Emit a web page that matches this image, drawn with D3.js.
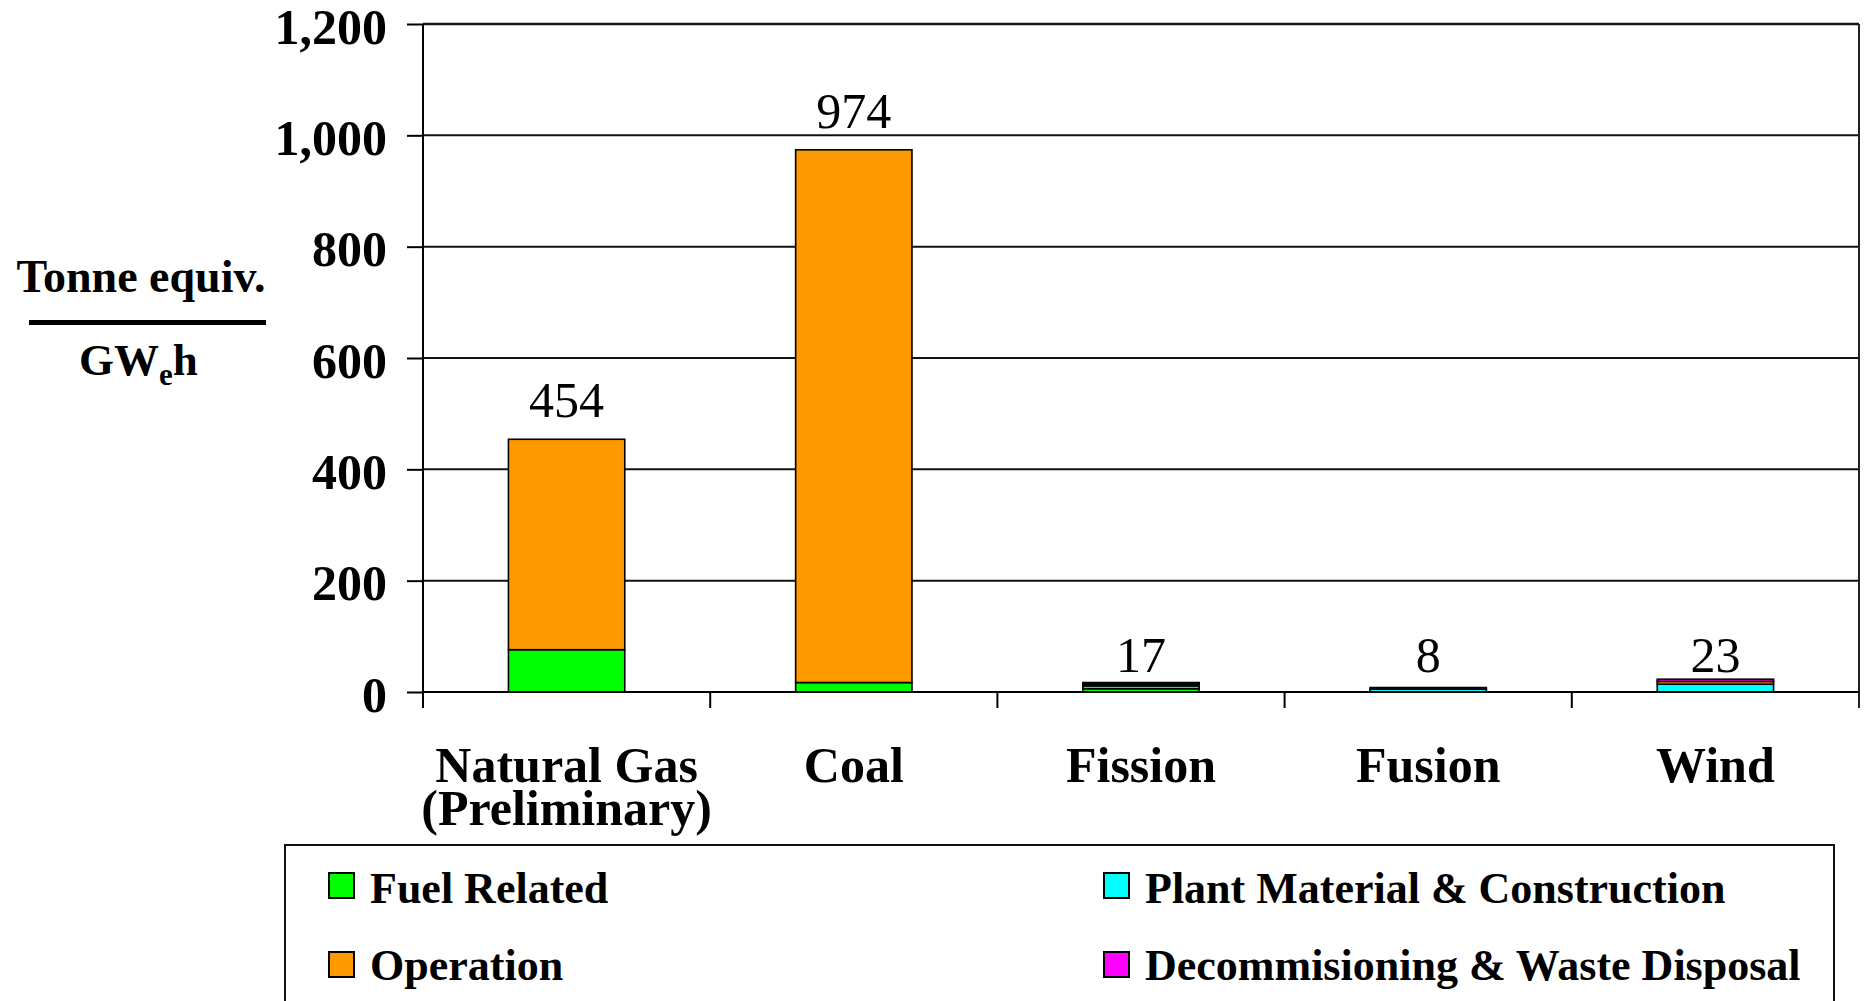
<!DOCTYPE html>
<html>
<head>
<meta charset="utf-8">
<script src="https://cdn.jsdelivr.net/npm/d3@7"></script>
<style>
  html, body { margin: 0; padding: 0; background: #fff; }
  svg { display: block; }
  text { font-family: "Liberation Serif", "Times New Roman", Times, serif; fill: #000; }
</style>
</head>
<body>
<svg id="chart" width="1865" height="1001"></svg>
<script>
// Emissions per unit of electricity, by generation source (tonne equiv. / GWe·h)
const categories = ["Natural Gas (Preliminary)", "Coal", "Fission", "Fusion", "Wind"];
const categoryLines = [["Natural Gas", "(Preliminary)"], ["Coal"], ["Fission"], ["Fusion"], ["Wind"]];

// Stack components, bottom to top
const fuelRelated   = [76, 17, 6, 0, 0];
const plantMaterial = [0, 0, 5, 5, 14];
const operation     = [378, 957, 3, 0, 5];
const decommission  = [0, 0, 3, 3, 4];

const seriesKeys   = ["fuel", "plant", "operation", "decom"];
const seriesNames  = ["Fuel Related", "Plant Material & Construction", "Operation", "Decommisioning & Waste Disposal"];
const seriesColors = ["#00FF00", "#00FFFF", "#FF9900", "#FF00FF"];

const yTicks = [0, 200, 400, 600, 800, 1000, 1200];

const rows = categories.map((c, i) => ({
  category: c,
  fuel: fuelRelated[i],
  plant: plantMaterial[i],
  operation: operation[i],
  decom: decommission[i]
}));

const svg = d3.select("#chart");
const plot = { left: 423, right: 1859, top: 24, bottom: 692 };

const x = d3.scaleBand()
  .domain(categories)
  .range([plot.left, plot.right])
  .paddingInner(0.595)
  .paddingOuter(0.2975);

const xCell = d3.scaleBand()
  .domain(categories)
  .range([plot.left, plot.right])
  .padding(0);

const y = d3.scaleLinear()
  .domain([0, 1200])
  .range([plot.bottom, plot.top]);

// Horizontal gridlines
svg.append("g")
  .selectAll("line")
  .data(yTicks.filter(d => d > 0))
  .join("line")
  .attr("x1", plot.left).attr("x2", plot.right)
  .attr("y1", d => y(d)).attr("y2", d => y(d))
  .attr("stroke", "#111")
  .attr("stroke-width", d => d === 1200 ? 2.6 : 2);

// Right border of the plot area, running down into the tick row
svg.append("line")
  .attr("x1", plot.right).attr("x2", plot.right)
  .attr("y1", plot.top).attr("y2", plot.bottom + 16)
  .attr("stroke", "#222").attr("stroke-width", 2);

// Stacked bars
const stacked = d3.stack().keys(seriesKeys)(rows);
svg.append("g")
  .selectAll("g")
  .data(stacked)
  .join("g")
  .attr("fill", (d, i) => seriesColors[i])
  .selectAll("rect")
  .data(d => d.filter(s => s[1] - s[0] > 0))
  .join("rect")
  .attr("x", d => x(d.data.category))
  .attr("width", x.bandwidth())
  .attr("y", d => y(d[1]))
  .attr("height", d => y(d[0]) - y(d[1]))
  .attr("stroke", "#000")
  .attr("stroke-width", 1.6);

// Total value above each bar; very short bars share one label row just above the axis
const totals = rows.map(r => ({ category: r.category, total: d3.sum(seriesKeys, k => r[k]) }));
svg.append("g")
  .selectAll("text")
  .data(totals)
  .join("text")
  .attr("x", d => x(d.category) + x.bandwidth() / 2)
  .attr("y", d => d.total < 50 ? y(0) - 20 : y(d.total) - 22)
  .attr("text-anchor", "middle")
  .attr("font-size", 50)
  .text(d => d3.format(",")(d.total));

// Y axis
const yAxis = svg.append("g")
  .attr("transform", `translate(${plot.left},0)`)
  .call(d3.axisLeft(y).tickValues(yTicks).tickSize(16).tickPadding(20).tickFormat(d3.format(",")));
yAxis.select(".domain").attr("stroke", "#000").attr("stroke-width", 2).attr("d", `M0,${plot.top}V${plot.bottom + 16}`);
yAxis.selectAll(".tick line").attr("stroke", "#000").attr("stroke-width", 2);
yAxis.selectAll(".tick text")
  .attr("font-family", "'Liberation Serif', 'Times New Roman', serif")
  .attr("font-size", 50)
  .attr("font-weight", "bold")
  .attr("fill", "#000")
  .attr("dy", "0.38em");

// X axis baseline and category boundary ticks
svg.append("line")
  .attr("x1", plot.left).attr("x2", plot.right)
  .attr("y1", plot.bottom).attr("y2", plot.bottom)
  .attr("stroke", "#000").attr("stroke-width", 2);
svg.append("g")
  .selectAll("line")
  .data(categories.slice(1))
  .join("line")
  .attr("x1", d => xCell(d)).attr("x2", d => xCell(d))
  .attr("y1", plot.bottom).attr("y2", plot.bottom + 16)
  .attr("stroke", "#000").attr("stroke-width", 2);

// Category labels
const catLabels = svg.append("g")
  .selectAll("text")
  .data(categories)
  .join("text")
  .attr("x", d => xCell(d) + xCell.bandwidth() / 2)
  .attr("y", 782)
  .attr("text-anchor", "middle")
  .attr("font-size", 50)
  .attr("font-weight", "bold");
catLabels.selectAll("tspan")
  .data((d, i) => categoryLines[i])
  .join("tspan")
  .attr("x", function () { return this.parentNode.getAttribute("x"); })
  .attr("dy", (d, j) => j === 0 ? 0 : 43)
  .text(d => d);

// Y axis title as a fraction: Tonne equiv. / GWeh
const titleX = 141;
svg.append("text")
  .attr("x", titleX).attr("y", 292)
  .attr("text-anchor", "middle")
  .attr("font-size", 46).attr("font-weight", "bold")
  .text("Tonne equiv.");
svg.append("line")
  .attr("x1", 29).attr("x2", 266)
  .attr("y1", 322.5).attr("y2", 322.5)
  .attr("stroke", "#000").attr("stroke-width", 5);
const unit = svg.append("text")
  .attr("x", 79).attr("y", 375)
  .attr("font-size", 45).attr("font-weight", "bold");
unit.append("tspan").text("GW");
unit.append("tspan").attr("font-size", 31).attr("dy", 10).text("e");
unit.append("tspan").attr("dy", -10).text("h");

// Legend
const legend = svg.append("g");
legend.append("rect")
  .attr("x", 285).attr("y", 845)
  .attr("width", 1549).attr("height", 200)
  .attr("fill", "#fff").attr("stroke", "#111").attr("stroke-width", 2);

const legendPos = [
  { sx: 329, tx: 370, sy: 873, ty: 903 },
  { sx: 1104, tx: 1145, sy: 873, ty: 903 },
  { sx: 329, tx: 370, sy: 952, ty: 980 },
  { sx: 1104, tx: 1145, sy: 952, ty: 980 }
];
const items = legend.selectAll("g.item")
  .data(seriesNames)
  .join("g")
  .attr("class", "item");
items.append("rect")
  .attr("x", (d, i) => legendPos[i].sx)
  .attr("y", (d, i) => legendPos[i].sy)
  .attr("width", 25).attr("height", 25)
  .attr("fill", (d, i) => seriesColors[i])
  .attr("stroke", "#000").attr("stroke-width", 2);
items.append("text")
  .attr("x", (d, i) => legendPos[i].tx)
  .attr("y", (d, i) => legendPos[i].ty)
  .attr("font-size", 44).attr("font-weight", "bold")
  .text(d => d);
</script>
</body>
</html>
